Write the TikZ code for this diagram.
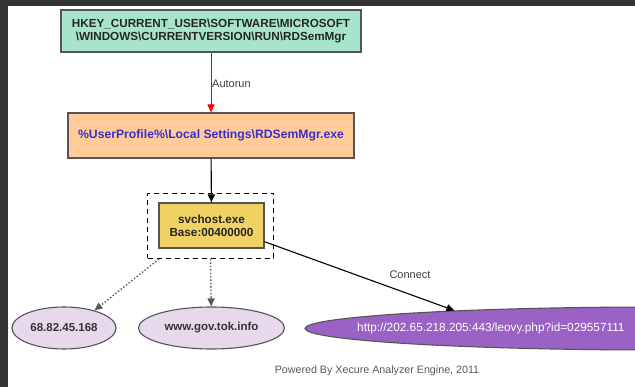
\documentclass[tikz,border=0pt]{standalone}
\usepackage{fontspec}
\setmainfont{Liberation Sans}
\usetikzlibrary{arrows.meta,shapes.geometric,calc}
\definecolor{frame}{HTML}{333333}
\definecolor{regfill}{HTML}{A8E4CC}
\definecolor{filefill}{HTML}{FFCC99}
\definecolor{procfill}{HTML}{F0D264}
\definecolor{hostfill}{HTML}{E8D8EC}
\definecolor{urlfill}{HTML}{9A62C4}
\definecolor{edgegray}{HTML}{555555}
\definecolor{pathblue}{HTML}{3A2ECC}
\tikzset{
  boxnode/.style={draw=edgegray, line width=1.1pt, inner sep=0pt, align=center,
    font=\fontsize{11.7}{13}\selectfont\bfseries},
  hostnode/.style={ellipse, draw=edgegray, line width=1.1pt, fill=hostfill, inner sep=0pt,
    font=\fontsize{11.5}{13}\selectfont\bfseries, text=black!80},
  edgelabel/.style={font=\fontsize{11}{12}\selectfont, text=black!75, inner sep=0pt},
  tip/.style={-{Triangle[length=8pt,width=7pt]}},
}
\begin{document}
\begin{tikzpicture}[x=1pt,y=-1pt]
  % page with dark frame on the top and left
  \fill[frame] (0,0) rectangle (635,387);
  \fill[white] (8,6) rectangle (635,387);
  \useasboundingbox (0,0) rectangle (635,387);

  % registry key
  \node[boxnode, fill=regfill, minimum width=300pt, minimum height=42pt, text=black!85]
    (reg) at (211,31) {HKEY\_CURRENT\_USER\textbackslash SOFTWARE\textbackslash MICROSOFT\\
    \textbackslash WINDOWS\textbackslash CURRENTVERSION\textbackslash RUN\textbackslash RDSemMgr};

  % dropped file
  \node[boxnode, fill=filefill, minimum width=286pt, minimum height=45pt, text=pathblue,
    font=\fontsize{12.2}{13}\selectfont\bfseries]
    (file) at (211,135.5) {\%UserProfile\%\textbackslash Local Settings\textbackslash RDSemMgr.exe};

  % process cluster
  \node[draw=black, line width=1pt, dash pattern=on 5pt off 4pt, minimum width=126pt,
    minimum height=65pt, inner sep=0pt] (cluster) at (210.5,226) {};
  \node[boxnode, fill=procfill, minimum width=105pt, minimum height=45pt, text=black!85]
    (proc) at (211.5,225.5) {svchost.exe\\Base:00400000};

  % network targets
  \node[hostnode, minimum width=104pt, minimum height=42pt] (ip) at (64,328) {68.82.45.168};
  \node[hostnode, minimum width=146pt, minimum height=42pt] (dom) at (211.5,328) {www.gov.tok.info};
  \begin{scope}
    \clip (0,0) rectangle (635,387);
    \node[ellipse, draw=edgegray, line width=1.1pt, fill=urlfill, minimum width=710pt,
      minimum height=43pt, inner sep=0pt] (url) at (660,328.5) {};
    \node[anchor=west, text=white, inner sep=0pt, font=\fontsize{11.8}{13}\selectfont]
      (urltext) at (357,328.5) {http://202.65.218.205:443/leovy.php?id=029557111};
  \end{scope}

  % connectors
  \draw[tip, red, line width=1pt] (reg) -- (file);
  \node[edgelabel, anchor=west] (lblrun) at (212,84) {Autorun};
  \draw[tip, black, line width=1.1pt] (file) -- (proc);
  \coordinate (c1) at ($(cluster.south west)+(12,0)$);
  \draw[tip, black!65, line width=1.4pt, dotted] (c1) -- (ip.30);
  \draw[tip, black!65, line width=1.4pt, dotted] (cluster.south) -- (dom);
  \draw[tip, black, line width=1.1pt] (proc.-17) -- (url.175);
  \node[edgelabel] (lblconn) at (410,275) {Connect};

  % footer
  \node[font=\fontsize{10.7}{12}\selectfont, text=black!65, inner sep=0pt] (footer)
    at (377,371) {Powered By Xecure Analyzer Engine, 2011};
\end{tikzpicture}
\end{document}
